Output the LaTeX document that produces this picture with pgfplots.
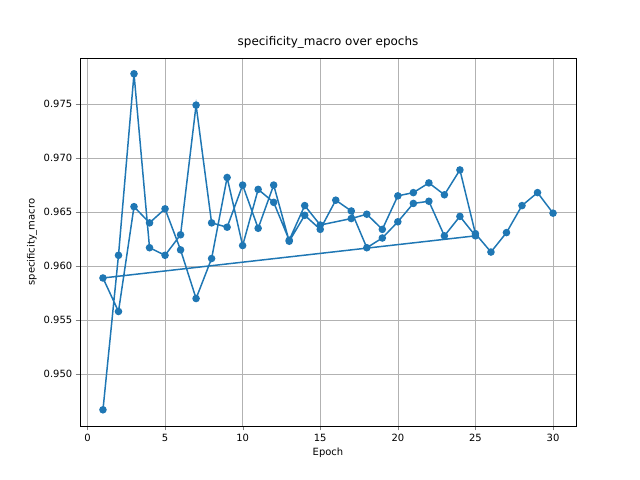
\documentclass[border=0pt]{standalone}
\usepackage{pgfplots}
\pgfplotsset{compat=1.18}
\usepackage{fontspec}
\setmainfont{DejaVu Sans}
\definecolor{mpl}{HTML}{1F77B4}
\begin{document}
\begin{tikzpicture}
\begin{axis}[
  name=ax,
  scale only axis, width=496bp, height=368bp,
  xmin=-0.48, xmax=31.48, ymin=0.9452, ymax=0.97926,
  xtick={0,5,10,15,20,25,30},
  ytick={0.950,0.955,0.960,0.965,0.970,0.975},
  yticklabel style={/pgf/number format/.cd,fixed,fixed zerofill,precision=3},
  /pgf/number format/assume math mode=true,
  grid=major, grid style={gray!60},
  tick label style={font=\fontsize{10}{12}\selectfont},
  label style={font=\fontsize{10}{12}\selectfont},
  title style={font=\fontsize{12}{14}\selectfont},
  title={specificity\_macro over epochs},
  xlabel={Epoch}, ylabel={specificity\_macro},
  tick align=outside, tick pos=left,
]
\addplot[mpl, line width=1.5pt, mark=*, mark size=3pt] coordinates {
(1,0.9467)(2,0.9610)(3,0.9778)(4,0.9617)(5,0.9610)(6,0.9629)(7,0.9749)(8,0.9640)(9,0.9636)(10,0.9675)(11,0.9635)(12,0.9675)(13,0.9623)(14,0.9647)(15,0.9634)(16,0.9661)(17,0.9651)(18,0.9617)(19,0.9626)(20,0.9641)(21,0.9658)(22,0.9660)(23,0.9628)(24,0.9646)(25,0.9628)
(1,0.9589)(2,0.9558)(3,0.9655)(4,0.9640)(5,0.9653)(6,0.9615)(7,0.9570)(8,0.9607)(9,0.9682)(10,0.9619)(11,0.9671)(12,0.9659)(13,0.9624)(14,0.9656)(15,0.9638)(17,0.9644)(18,0.9648)(19,0.9634)(20,0.9665)(21,0.9668)(22,0.9677)(23,0.9666)(24,0.9689)(25,0.9630)(26,0.9613)(27,0.9631)(28,0.9656)(29,0.9668)(30,0.9649)
};
\end{axis}
\useasboundingbox ([shift={(-80bp,-54bp)}]ax.south west) rectangle ([shift={(64bp,58bp)}]ax.north east);
\end{tikzpicture}
\end{document}
